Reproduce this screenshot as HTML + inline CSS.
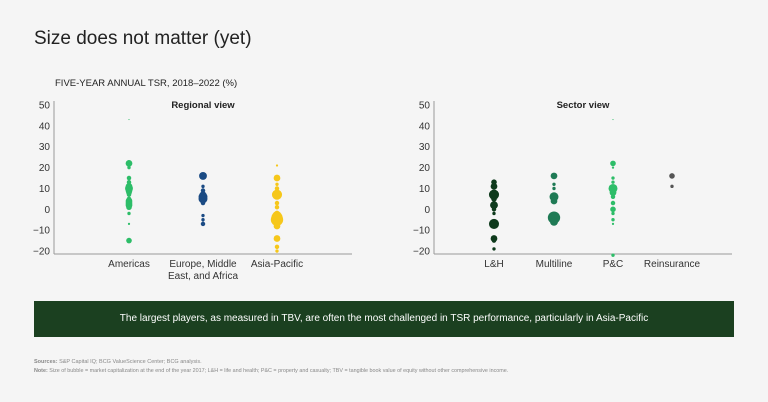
<!DOCTYPE html>
<html><head><meta charset="utf-8"><style>
body{margin:0;width:768px;height:402px;background:#f5f5f5;font-family:"Liberation Sans",sans-serif;position:relative;overflow:hidden}
.t{position:absolute;white-space:nowrap}
</style></head><body>
<div class="t" style="left:34px;top:28px;font-size:19px;color:#222">Size does not matter (yet)</div>
<div class="t" style="left:55px;top:78px;font-size:9.5px;color:#222">FIVE-YEAR ANNUAL TSR, 2018–2022 (%)</div>
<svg id="c" width="768" height="300" style="position:absolute;left:0;top:0"></svg>
<div class="t" style="left:34px;top:301px;width:700px;height:36px;background:#1b4020;color:#fff;font-size:10px;line-height:36px;text-align:center">The largest players, as measured in TBV, are often the most challenged in TSR performance, particularly in Asia-Pacific</div>
<div class="t" style="left:34px;top:359px;font-size:5.5px;color:#888"><b>Sources:</b> S&amp;P Capital IQ; BCG ValueScience Center; BCG analysis.</div>
<div class="t" style="left:34px;top:368px;font-size:5.4px;color:#888"><b>Note:</b> Size of bubble = market capitalization at the end of the year 2017; L&amp;H = life and health; P&amp;C = property and casualty; TBV = tangible book value of equity without other comprehensive income.</div>
<script>
const regionCats=["Americas","Europe, Middle East, and Africa","Asia-Pacific"];
const sectorCats=["L&H","Multiline","P&C","Reinsurance"];
const americasVals=[43,22,20,15,13,11,10,9,8,7,5,4,3,2,1,-2,-7,-15];
const americasSizes=[0.5,3,1.5,2,2,3,3.5,3,2.5,2,2,3,3,3,2.5,1.5,1,2.5];
const emeaVals=[16,11,9,7,6,5,4,3,-3,-5,-7];
const emeaSizes=[3.5,1.5,2,3,4,4,2.5,2,1.5,1.5,2];
const apacVals=[21,15,12,10,8,7,3,1,-2,-3,-4,-5,-6,-8,-14,-18,-20];
const apacSizes=[1,3,1.5,2,2.5,4.5,2,2,2.5,4,5,5.5,4,3,3,2,1.5];
const lhVals=[13,11,7,5,2,0,-2,-7,-14,-15,-19];
const lhSizes=[2.5,3,4.5,2.5,3.5,2,1.5,4.5,3,2,1.5];
const multiVals=[16,12,10,6,4,-4,-6];
const multiSizes=[3,1.5,1.5,4,3,5.5,3.5];
const pcVals=[43,22,20,15,13,10,8,6,3,0,-2,-5,-7,-22];
const pcSizes=[0.5,2.5,1,1.5,1.5,4,3,2,2,2.5,1.5,1.5,1,1.5];
const reVals=[16,11];
const reSizes=[2.5,1.5];
const ticks=[50,40,30,20,10,0,-10,-20];
const NS="http://www.w3.org/2000/svg",svg=document.getElementById('c');
function y(v){return 209.3-v*2.086;}
function mk(t,a,p){const e=document.createElementNS(NS,t);for(const k in a)e.setAttribute(k,a[k]);(p||svg).appendChild(e);return e;}
function panel(ax,title,cats,xs,series,name){
  const g=mk('g',{});
  
  
  const yl=mk('line',{x1:ax,x2:ax,y1:101,y2:254,stroke:'#999','stroke-width':1},g);
  
  const xl=mk('line',{x1:ax,x2:ax+298,y1:254,y2:254,stroke:'#999','stroke-width':1},g);
  
  ticks.forEach(v=>{const t=mk('text',{x:ax-4,y:y(v)+3.5,'text-anchor':'end','font-size':10,fill:'#333'},g);t.textContent=v<0?'\u2212'+(-v):v;
    });
  const tt=mk('text',{x:ax+149,y:108,'text-anchor':'middle','font-size':9.5,'font-weight':'bold',fill:'#222'},g);tt.textContent=title;
  
  cats.forEach((c,i)=>{
    const parts=c==="Europe, Middle East, and Africa"?["Europe, Middle","East, and Africa"]:[c];
    parts.forEach((p,j)=>{const t=mk('text',{x:ax+xs[i],y:267+j*12,'text-anchor':'middle','font-size':10,fill:'#333'},g);t.textContent=p;
      });
    const s=series[i];
    s.v.forEach((v,k)=>{const b=mk('circle',{cx:ax+xs[i],cy:y(v),r:s.s[k]*1.12,fill:s.c},g);
      });
  });
}
panel(54,"Regional view",regionCats,[75,149,223],[
 {v:americasVals,s:americasSizes,c:'#2dbd68'},{v:emeaVals,s:emeaSizes,c:'#1b4b84'},{v:apacVals,s:apacSizes,c:'#f6c71a'}],'regional-view-chart');
panel(434,"Sector view",sectorCats,[60,120,179,238],[
 {v:lhVals,s:lhSizes,c:'#0e3a1c'},{v:multiVals,s:multiSizes,c:'#1f7a55'},{v:pcVals,s:pcSizes,c:'#2dbd68'},{v:reVals,s:reSizes,c:'#555'}],'sector-view-chart');
</script>
</body></html>
